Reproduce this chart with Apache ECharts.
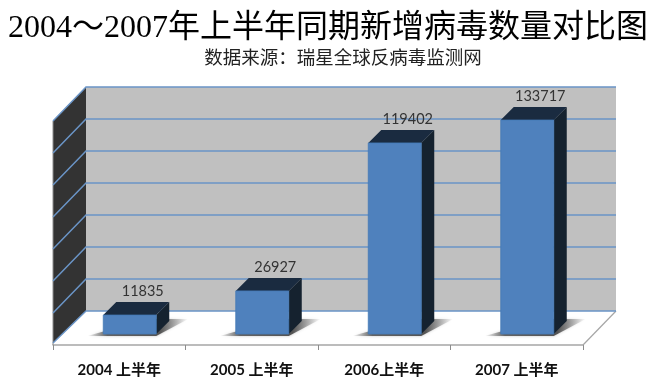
<!DOCTYPE html>
<html>
<head>
<meta charset="utf-8">
<style>html,body{margin:0;padding:0;background:#fff}#c{width:656px;height:380px}</style>
<script src="https://cdn.jsdelivr.net/npm/echarts@6/dist/echarts.min.js"></script>
</head>
<body>
<div id="c"></div>
<script>
var categories = ['2004 上半年', '2005 上半年', '2006上半年', '2007 上半年'];
var virusCounts = [11835, 26927, 119402, 133717];
var valueTicks = [0, 20000, 40000, 60000, 80000, 100000, 120000, 140000];
var titleText = '2004～2007年上半年同期新增病毒数量对比图';
var subtitleText = '数据来源：瑞星全球反病毒监测网';

var DX = 33, DY = -34;            // wall depth
var BAR_DX = 13, BAR_DY = -13;    // bar depth
var PLANE_DX = 10.5, PLANE_DY = -11; // plane of the bar fronts relative to the axis plane
var GRID_BLUE = '#6a94c6';

var chart = echarts.init(document.getElementById('c'), null, {renderer: 'canvas'});

function poly(points, style, z2) {
  return {type: 'polygon', shape: {points: points}, style: style, z2: z2 || 0, silent: true};
}
function line(points, stroke, w) {
  return {type: 'polyline', shape: {points: points}, style: {stroke: stroke, lineWidth: w, fill: null}, silent: true};
}

function renderWalls(params, api) {
  var bl = api.coord([0, 0]);
  var tl = api.coord([0, valueTicks[valueTicks.length - 1]]);
  var band = api.size([1, 0])[0];
  var xL = bl[0] - band / 2, xR = xL + band * categories.length;
  var yB = bl[1], yT = tl[1];
  return {type: 'group', children: [
    poly([[xL + DX, yT + DY], [xR + DX, yT + DY], [xR + DX, yB + DY], [xL + DX, yB + DY]], {fill: '#c0c0c0'}),
    poly([[xL, yT], [xL + DX, yT + DY], [xL + DX, yB + DY], [xL, yB - 2]], {fill: '#333333'}),
    line([[xL, yT], [xL, yB]], '#8c8c8c', 1),
    line([[xR, yB], [xR + DX, yB + DY]], '#a6a6a6', 1.2)
  ]};
}

function renderGridline(params, api) {
  var v = api.value(0);
  var p = api.coord([0, v]);
  var band = api.size([1, 0])[0];
  var xL = p[0] - band / 2, xR = xL + band * categories.length;
  var front = v === 0 ? p[1] - 2 : p[1];
  return line([[xL, front], [xL + DX, p[1] + DY], [xR + DX, p[1] + DY]], GRID_BLUE, 1.5);
}

function renderBar(params, api) {
  var idx = api.value(0), val = api.value(1);
  var c = api.coord([idx, val]), b = api.coord([idx, 0]);
  var w = api.size([1, 0])[0] * 0.4;
  var x0 = c[0] - w / 2 + PLANE_DX, x1 = x0 + w;
  var yT = c[1] + PLANE_DY, yB = b[1] + PLANE_DY;
  var sx0 = x0 - 16, sx1 = x1 + 32;
  var shade = {
    type: 'linear', x: sx0, y: 0, x2: sx1, y2: 0, global: true,
    colorStops: [
      {offset: 0, color: 'rgba(90,90,90,0)'},
      {offset: 0.2, color: 'rgba(80,80,80,0.85)'},
      {offset: 0.72, color: 'rgba(70,70,70,0.9)'},
      {offset: 1, color: 'rgba(110,110,110,0)'}
    ]
  };
  return {type: 'group', children: [
    poly([[sx0, yB + 2], [x1, yB + 2], [sx1, yB - 15], [x1 - 8, yB - 15]], {
      fill: shade, shadowBlur: 3, shadowColor: 'rgba(120,120,120,0.5)'
    }),
    poly([[x1, yT], [x1 + BAR_DX, yT + BAR_DY], [x1 + BAR_DX, yB + BAR_DY], [x1, yB]], {fill: '#15222f'}),
    poly([[x0, yT], [x0 + BAR_DX, yT + BAR_DY], [x1 + BAR_DX, yT + BAR_DY], [x1, yT]], {fill: '#1a2b40'}),
    poly([[x0, yT], [x1, yT], [x1, yB], [x0, yB]], {fill: '#4f81bd', stroke: '#447ab6', lineWidth: 0.8}),
    {type: 'text', silent: true, style: {
      text: String(val), x: (x0 + x1) / 2 + 13, y: yT + BAR_DY - 11,
      align: 'center', verticalAlign: 'middle', fill: '#333333',
      font: '14.5px Lato, "Open Sans", sans-serif'
    }}
  ]};
}

chart.setOption({
  animation: false,
  backgroundColor: '#ffffff',
  title: [
    {text: titleText, left: 323, textAlign: 'center', top: 8,
     textStyle: {fontFamily: '"Liberation Serif", "Noto Sans CJK SC"', fontSize: 32, fontWeight: 'normal', color: '#000'}},
    {text: subtitleText, left: 338, textAlign: 'center', top: 43,
     textStyle: {fontFamily: '"Noto Sans CJK SC"', fontSize: 18.5, fontWeight: 'normal', color: '#222'}}
  ],
  grid: {left: 53, right: 73, top: 121, bottom: 35},
  xAxis: {
    type: 'category', data: categories,
    axisLine: {show: true, lineStyle: {color: '#a6a6a6', width: 1.5}},
    axisTick: {show: true, alignWithLabel: false, length: 5, lineStyle: {color: '#8c8c8c', width: 1}},
    axisLabel: {margin: 18, color: '#111', fontSize: 15, fontWeight: 'bold', interval: 0,
      fontFamily: 'Lato, "Noto Sans CJK SC"'},
    splitLine: {show: false}
  },
  yAxis: {type: 'value', min: 0, max: 140000, interval: 20000, show: false, splitLine: {show: false}},
  series: [
    {type: 'custom', z: 1, clip: false, silent: true, renderItem: renderWalls, data: [[0, 0]], encode: {x: 0, y: 1}},
    {type: 'custom', z: 2, clip: false, silent: true, renderItem: renderGridline, data: valueTicks.map(function (v) { return [v]; }), encode: {y: 0}},
    {type: 'custom', z: 3, clip: false, silent: true, renderItem: renderBar,
     data: virusCounts.map(function (v, i) { return [i, v]; }), encode: {x: 0, y: 1}}
  ]
});
</script>
</body>
</html>
